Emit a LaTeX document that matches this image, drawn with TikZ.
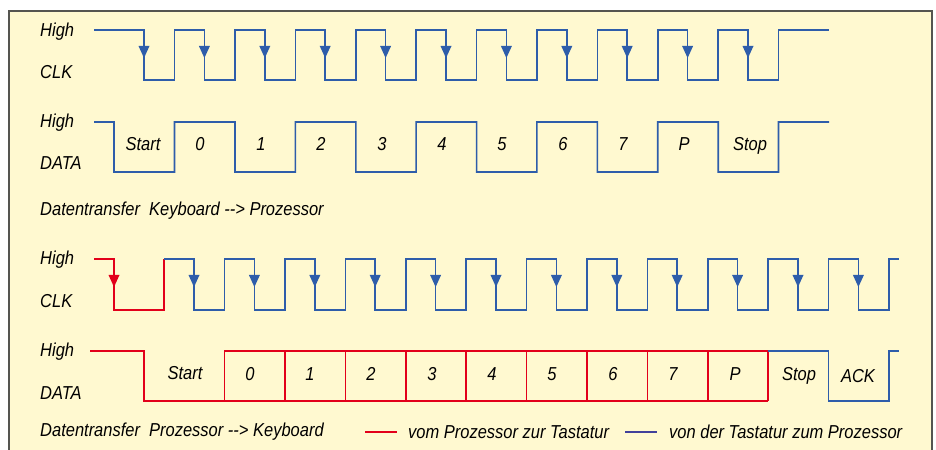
\documentclass[tikz,border=0pt]{standalone}
\usepackage{fontspec}
\setmainfont{Liberation Sans}[FakeStretch=0.88]
\definecolor{bg}{HTML}{FFF9D0}
\definecolor{wblue}{HTML}{2E5DAA}
\definecolor{wred}{HTML}{E2001A}
\definecolor{lpurple}{HTML}{41419A}
\definecolor{frame}{HTML}{555550}
\tikzset{
  lbl/.style={font=\fontsize{18.8}{20}\selectfont\itshape, inner sep=0pt, text=black},
  side/.style={lbl, anchor=west},
  wave/.style={line width=1.6bp, line join=miter},
  bluew/.style={wave, draw=wblue},
  redw/.style={wave, draw=wred},
}
\newcommand{\dnarrow}[3]{\fill[#1] ({#2-5.5},{#3}) -- ({#2+5.5},{#3}) -- (#2,{#3+12}) -- cycle;}
\begin{document}
\begin{tikzpicture}[x=1bp,y=-1bp]
\useasboundingbox (0,0) rectangle (936,450);
\begin{scope}
\clip (0,0) rectangle (936,450);
\fill[bg] (9,11) rectangle (932,460);
\draw[frame, line width=1.2bp] (9,460) -- (9,11) -- (932,11) -- (932,460);
\end{scope}

% ---- top: Keyboard -> Prozessor ----
\node[side] (h1) at (40,32) {High};
\node[side] (c1) at (40,72) {CLK};
\node[side] (h2) at (40,123) {High};
\node[side] (d1) at (40,163) {DATA};
\node[side] (t1) at (40,211) {Datentransfer\ \ Keyboard -{}-> Prozessor};

\draw[bluew] (94,30) \foreach \i in {0,...,10} {
  -- ({144+60.4*\i},30) -- ({144+60.4*\i},80) -- ({174.5+60.4*\i},80) -- ({174.5+60.4*\i},30) } -- (829,30);
\foreach \i in {0,...,10} { \dnarrow{wblue}{144+60.4*\i}{46} }

\draw[bluew] (94,122) -- (114,122) -- (114,172) -- (174.5,172)
  \foreach \k in {0,2,4,6,8} {
   -- ({174.5+60.4*\k},122) -- ({235+60.4*\k},122) -- ({235+60.4*\k},172) -- ({295.3+60.4*\k},172) }
  -- (778.5,122) -- (829,122);

\node[lbl] (s1) at (143,144) {Start};
\node[lbl] (b10) at (200,144) {0};
\node[lbl] (b11) at (261,144) {1};
\node[lbl] (b12) at (321,144) {2};
\node[lbl] (b13) at (382,144) {3};
\node[lbl] (b14) at (442,144) {4};
\node[lbl] (b15) at (502,144) {5};
\node[lbl] (b16) at (563,144) {6};
\node[lbl] (b17) at (623,144) {7};
\node[lbl] (p1) at (684,144) {P};
\node[lbl] (st1) at (750,146) {Stop};

% ---- bottom: Prozessor -> Keyboard ----
\node[side] (h3) at (40,260) {High};
\node[side] (c2) at (40,301) {CLK};
\node[side] (h4) at (40,352) {High};
\node[side] (d2) at (40,393) {DATA};
\node[side] (t2) at (40,432) {Datentransfer\ \ Prozessor -{}-> Keyboard};

\draw[redw] (94,259) -- (114,259) -- (114,310) -- (164,310) -- (164,259);
\dnarrow{wred}{114}{275}
\draw[bluew] (164,259) \foreach \i in {0,...,11} {
  -- ({194+60.4*\i},259) -- ({194+60.4*\i},310) -- ({224.5+60.4*\i},310) -- ({224.5+60.4*\i},259) } -- (899,259);
\foreach \i in {0,...,11} { \dnarrow{wblue}{194+60.4*\i}{275} }

\draw[redw] (90,351) -- (144,351) -- (144,401) -- (768.1,401);
\draw[redw] (224.5,401) -- (224.5,351) -- (768.1,351) -- (768.1,401);
\foreach \k in {1,...,8} { \draw[redw] ({224.5+60.4*\k},351) -- ({224.5+60.4*\k},401); }
\draw[bluew] (768.1,351) -- (828.5,351) -- (828.5,401) -- (888.9,401) -- (888.9,351) -- (899,351);

\node[lbl] (s2) at (185,373) {Start};
\node[lbl] (b20) at (250,374) {0};
\node[lbl] (b21) at (310,374) {1};
\node[lbl] (b22) at (371,374) {2};
\node[lbl] (b23) at (432,374) {3};
\node[lbl] (b24) at (492,374) {4};
\node[lbl] (b25) at (552,374) {5};
\node[lbl] (b26) at (613,374) {6};
\node[lbl] (b27) at (673,374) {7};
\node[lbl] (p2) at (735,374) {P};
\node[lbl] (st2) at (799,376) {Stop};
\node[lbl] (ack) at (858,376) {ACK};

% ---- legend ----
\coordinate (lr1) at (365,432);
\coordinate (lr2) at (397,432);
\draw[wred, line width=1.6bp] (lr1) -- (lr2);
\node[side] (lt1) at (408,432) {vom Prozessor zur Tastatur};
\coordinate (lb1) at (625,432);
\coordinate (lb2) at (657,432);
\draw[lpurple, line width=1.6bp] (lb1) -- (lb2);
\node[side] (lt2) at (669,432) {von der Tastatur zum Prozessor};
\end{tikzpicture}
\end{document}
